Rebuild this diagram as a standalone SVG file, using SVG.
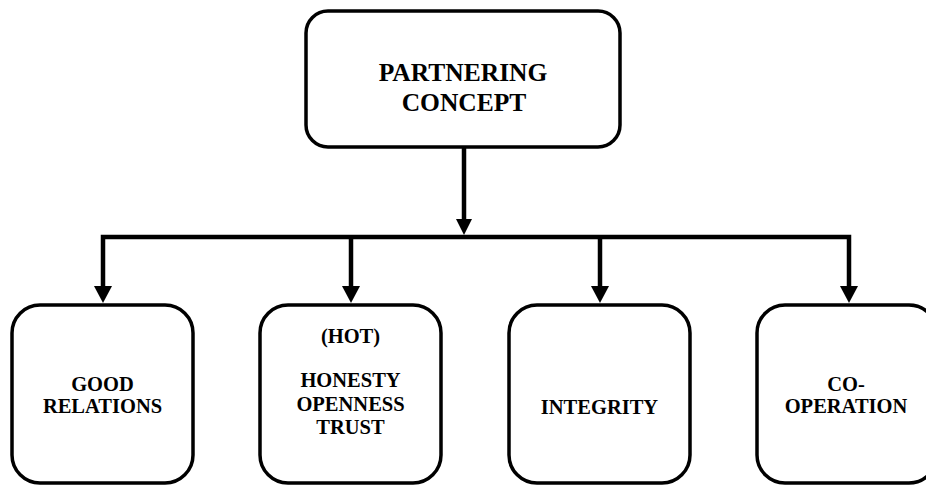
<svg xmlns="http://www.w3.org/2000/svg" width="926" height="485" viewBox="0 0 926 485">
<style>
.box{fill:#fff;stroke:#000;stroke-width:3.5}
.t{font-family:"Liberation Serif","Times New Roman",serif;font-weight:bold;fill:#000;text-anchor:middle}
.big{font-size:25.5px}
.sm{font-size:20.5px}
.ln{fill:none;stroke:#000;stroke-width:4.5}
.ah{fill:#000}
</style>
<g id="connectors">
<path class="ln" d="M464 147 V222"/>
<path class="ah" d="M456 219 H472 L464 235 Z"/>
<path class="ln" d="M103 288 V237 H849 V288"/>
<path class="ln" d="M351 237 V288"/>
<path class="ln" d="M600 237 V288"/>
<path class="ah" d="M94 286 H112 L103 303 Z"/>
<path class="ah" d="M342 286 H360 L351 303 Z"/>
<path class="ah" d="M591 286 H609 L600 303 Z"/>
<path class="ah" d="M840 286 H858 L849 303 Z"/>
</g>
<g id="partnering">
<rect class="box" x="306" y="11" width="314" height="136" rx="22"/>
<text class="t big" x="463" y="81">PARTNERING</text>
<text class="t big" x="464" y="111">CONCEPT</text>
</g>
<g id="good-relations">
<rect class="box" x="12" y="305" width="181" height="178" rx="28"/>
<text class="t sm" x="102.5" y="391">GOOD</text>
<text class="t sm" x="102.5" y="413">RELATIONS</text>
</g>
<g id="hot">
<rect class="box" x="260" y="305" width="181" height="178" rx="28"/>
<text class="t sm" x="350.5" y="343">(HOT)</text>
<text class="t sm" x="350.5" y="387">HONESTY</text>
<text class="t sm" x="350.5" y="411">OPENNESS</text>
<text class="t sm" x="350.5" y="434">TRUST</text>
</g>
<g id="integrity">
<rect class="box" x="509" y="305" width="181" height="178" rx="28"/>
<text class="t sm" x="599.5" y="414">INTEGRITY</text>
</g>
<g id="co-operation">
<rect class="box" x="757" y="305" width="180" height="178" rx="28"/>
<text class="t sm" x="846" y="391">CO-</text>
<text class="t sm" x="846" y="413">OPERATION</text>
</g>
</svg>
